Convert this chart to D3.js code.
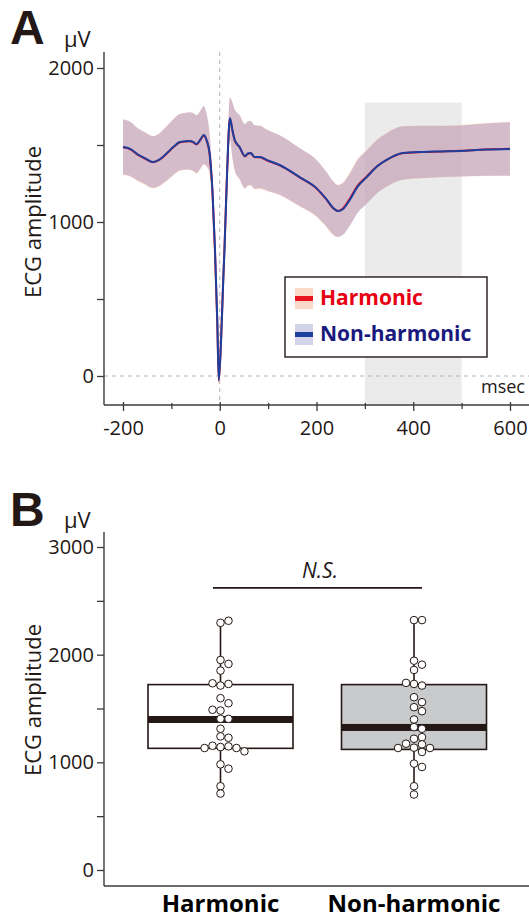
<!DOCTYPE html>
<html>
<head>
<meta charset="utf-8">
<script src="https://cdn.jsdelivr.net/npm/d3@7"></script>
<style>
  body { margin: 0; background: #fff; }
  svg { display: block; font-family: "Open Sans", "Noto Sans", sans-serif; }
</style>
</head>
<body>
<div id="chart"></div>
<script>
// ---- Panel A: averaged ECG waveform ----
const timeMs = [-200, -185, -170, -155, -138, -125, -110, -95, -83, -70, -62, -55, -48, -40, -33, -27, -21, -15, -10, -5, -2, 3, 7, 10, 15, 21, 26, 31, 41, 52, 58, 64, 72, 83, 97, 124, 165, 200, 220, 235, 244, 255, 270, 285, 304, 325, 345, 378, 420, 460, 496, 550, 600];
const harmonicMean = [1485, 1472, 1438, 1412, 1388, 1403, 1443, 1488, 1516, 1523, 1525, 1518, 1504, 1533, 1562, 1528, 1440, 1190, 820, 330, -30, 260, 610, 850, 1310, 1672, 1598, 1530, 1485, 1426, 1443, 1446, 1420, 1420, 1401, 1368, 1290, 1218, 1148, 1088, 1072, 1090, 1158, 1236, 1296, 1362, 1404, 1447, 1454, 1458, 1462, 1471, 1475];
const nonHarmonicMean = [1487, 1475, 1440, 1415, 1390, 1405, 1445, 1490, 1519, 1525, 1526, 1520, 1506, 1535, 1565, 1530, 1448, 1200, 838, 350, -26, 250, 600, 838, 1300, 1675, 1600, 1532, 1487, 1428, 1445, 1448, 1422, 1422, 1403, 1370, 1292, 1220, 1150, 1090, 1071, 1085, 1150, 1230, 1292, 1360, 1403, 1448, 1455, 1458, 1461, 1470, 1474];
const harmonicSd = [180, 178, 172, 170, 170, 172, 178, 183, 185, 186, 188, 190, 190, 190, 190, 170, 130, 80, 50, 30, 25, 30, 40, 50, 90, 137, 180, 200, 210, 210, 210, 210, 208, 205, 200, 195, 190, 185, 180, 175, 170, 170, 172, 174, 175, 175, 175, 175, 172, 168, 168, 172, 175];
const nonHarmonicSd = [178, 176, 170, 168, 168, 170, 176, 181, 183, 184, 186, 188, 188, 188, 188, 168, 128, 78, 48, 28, 24, 28, 38, 48, 88, 135, 178, 198, 208, 208, 208, 208, 206, 203, 198, 193, 188, 183, 178, 173, 168, 168, 170, 172, 173, 173, 173, 173, 170, 166, 166, 170, 173];
const analysisWindow = [300, 500];
const windowTop = 1775;
const xTicksA = [-200, 0, 200, 400, 600];
const xMinorA = [-100, 100, 300, 500];
const yTicksA = [0, 1000, 2000];
const yMinorA = [500, 1500];

// ---- Panel B: amplitude per condition ----
const groups = ["Harmonic", "Non-harmonic"];
const harmonicAmp = [2296, 2315, 1951, 1914, 1852, 1713, 1728, 1734, 1596, 1549, 1481, 1488, 1404, 1404, 1312, 1241, 1228, 1142, 1148, 1154, 1133, 1133, 1102, 981, 941, 778, 710];
const nonHarmonicAmp = [2321, 2321, 1944, 1907, 1858, 1728, 1713, 1738, 1605, 1559, 1512, 1475, 1398, 1327, 1312, 1219, 1234, 1167, 1173, 1136, 1133, 1133, 1096, 988, 957, 778, 701];
const boxQ1 = [1130, 1120];
const boxMedian = [1398, 1324];
const boxQ3 = [1722, 1722];
const yTicksB = [0, 1000, 2000, 3000];
const yMinorB = [500, 1500, 2500];

const W = 529, H = 919;
const ink = "#231815", axisCol = "#3e3a39";
const font = '"Open Sans", "Noto Sans", sans-serif';

const svg = d3.select("#chart").append("svg")
  .attr("width", W).attr("height", H);

// ================= Panel A =================
const xA = d3.scaleLinear().domain([-200, 600]).range([123, 510]);
const yA = d3.scaleLinear().domain([0, 2000]).range([376, 68]);
const axisXA = 104, axisYA = 405;

const gA = svg.append("g");

// analysis window
gA.append("rect")
  .attr("x", xA(analysisWindow[0]))
  .attr("y", yA(windowTop))
  .attr("width", xA(analysisWindow[1]) - xA(analysisWindow[0]))
  .attr("height", axisYA - yA(windowTop))
  .attr("fill", "#ebebeb");

// dashed reference lines
gA.append("line")
  .attr("x1", xA(0)).attr("x2", xA(0)).attr("y1", 52).attr("y2", axisYA)
  .attr("stroke", "#b5b5b5").attr("stroke-dasharray", "4,4").attr("stroke-width", 1);
gA.append("line")
  .attr("x1", axisXA).attr("x2", W).attr("y1", yA(0)).attr("y2", yA(0))
  .attr("stroke", "#b5b5b5").attr("stroke-dasharray", "4,4").attr("stroke-width", 1);

const series = [
  { name: "Harmonic", mean: harmonicMean, sd: harmonicSd, band: "#ffd0ac", bandOp: 0.6, line: "#e8141e", text: "#e60012", swatch: "#fbd9c8" },
  { name: "Non-harmonic", mean: nonHarmonicMean, sd: nonHarmonicSd, band: "#9682c8", bandOp: 0.4, line: "#1d3f9e", text: "#1a1a7e", swatch: "#d3d4ea" }
];

const area = d3.area().curve(d3.curveMonotoneX)
  .x(d => xA(d.t)).y0(d => yA(d.m - d.s)).y1(d => yA(d.m + d.s));
const line = d3.line().curve(d3.curveMonotoneX)
  .x(d => xA(d.t)).y(d => yA(d.m));

series.forEach(s => {
  s.rows = timeMs.map((t, i) => ({ t, m: s.mean[i], s: s.sd[i] }));
  gA.append("path").datum(s.rows)
    .attr("d", area).attr("fill", s.band).attr("fill-opacity", s.bandOp);
});
series.forEach(s => {
  gA.append("path").datum(s.rows)
    .attr("d", line).attr("fill", "none")
    .attr("stroke", s.line).attr("stroke-width", 2);
});

// axes A
gA.append("line").attr("x1", axisXA).attr("x2", axisXA).attr("y1", 52).attr("y2", axisYA)
  .attr("stroke", axisCol).attr("stroke-width", 1.4);
gA.append("line").attr("x1", axisXA).attr("x2", W).attr("y1", axisYA).attr("y2", axisYA)
  .attr("stroke", axisCol).attr("stroke-width", 1.4);

gA.append("g").attr("transform", `translate(${axisXA},0)`)
  .call(d3.axisLeft(yA).tickValues(yTicksA).tickSize(7).tickPadding(3).tickFormat(d => String(d)));
gA.append("g").attr("transform", `translate(${axisXA},0)`)
  .call(d3.axisLeft(yA).tickValues(yMinorA).tickSize(7).tickFormat(""));

const xAxA = gA.append("g").attr("transform", `translate(0,${axisYA})`)
  .call(d3.axisBottom(xA).tickValues(xTicksA).tickSize(6).tickPadding(10).tickFormat(d => String(d)));
xAxA.selectAll(".tick line").attr("y1", -3);
const xMinA = gA.append("g").attr("transform", `translate(0,${axisYA})`)
  .call(d3.axisBottom(xA).tickValues(xMinorA).tickSize(4).tickFormat(""));
xMinA.selectAll(".tick line").attr("y1", -2);

// ================= Panel B =================
const xB = d3.scalePoint().domain(groups).range([220.5, 414]);
const yB = d3.scaleLinear().domain([0, 3000]).range([870, 547]);
const axisXB = 104, axisYB = 886;
const boxW = 145;

const gB = svg.append("g");
const ampSets = [harmonicAmp, nonHarmonicAmp];
const boxFill = ["#ffffff", "#c9cacb"];

groups.forEach((g, i) => {
  const cx = xB(g);
  const ext = d3.extent(ampSets[i]);
  gB.append("line").attr("x1", cx).attr("x2", cx)
    .attr("y1", yB(ext[1])).attr("y2", yB(ext[0]))
    .attr("stroke", ink).attr("stroke-width", 1.6);
  gB.append("rect")
    .attr("x", cx - boxW / 2).attr("width", boxW)
    .attr("y", yB(boxQ3[i])).attr("height", yB(boxQ1[i]) - yB(boxQ3[i]))
    .attr("fill", boxFill[i]).attr("stroke", ink).attr("stroke-width", 1.6);
  gB.append("rect")
    .attr("x", cx - boxW / 2).attr("width", boxW)
    .attr("y", yB(boxMedian[i]) - 3.5).attr("height", 7)
    .attr("fill", ink);
});

// points, dodged so they do not overlap
const r = 3.8;
function dodge(vals) {
  const placed = [];
  return vals.map(v => {
    const cy = yB(v);
    let off = 0;
    for (let k = 0; k < 30; k++) {
      const o = k === 0 ? 0 : (k % 2 ? 1 : -1) * Math.ceil(k / 2) * r * 1.05;
      if (placed.every(p => Math.hypot(p[0] - o, p[1] - cy) >= 2 * r - 0.6)) { off = o; break; }
    }
    placed.push([off, cy]);
    return [off, cy];
  });
}
groups.forEach((g, i) => {
  const cx = xB(g);
  gB.selectAll(null).data(dodge(ampSets[i])).enter().append("circle")
    .attr("cx", d => cx + d[0]).attr("cy", d => d[1]).attr("r", r)
    .attr("fill", "#fff").attr("stroke", ink).attr("stroke-width", 1);
});

// significance bar
gB.append("line").attr("x1", 213).attr("x2", 422).attr("y1", yB(2620)).attr("y2", yB(2620))
  .attr("stroke", ink).attr("stroke-width", 1.6);
gB.append("text").attr("x", 320).attr("y", yB(2620) - 10)
  .attr("text-anchor", "middle").attr("font-style", "italic")
  .attr("font-size", 21).attr("fill", ink).text("N.S.");

// axes B
gB.append("line").attr("x1", axisXB).attr("x2", axisXB).attr("y1", 532).attr("y2", axisYB)
  .attr("stroke", axisCol).attr("stroke-width", 1.4);
gB.append("line").attr("x1", axisXB).attr("x2", W).attr("y1", axisYB).attr("y2", axisYB)
  .attr("stroke", axisCol).attr("stroke-width", 1.4);
gB.append("g").attr("transform", `translate(${axisXB},0)`)
  .call(d3.axisLeft(yB).tickValues(yTicksB).tickSize(7).tickPadding(3).tickFormat(d => String(d)));
gB.append("g").attr("transform", `translate(${axisXB},0)`)
  .call(d3.axisLeft(yB).tickValues(yMinorB).tickSize(7).tickFormat(""));

gB.selectAll(null).data(groups).enter().append("text")
  .attr("x", d => xB(d)).attr("y", 912)
  .attr("text-anchor", "middle").attr("font-weight", "bold")
  .attr("font-size", 24).attr("fill", "#000").text(d => d);

// style axis text/lines
svg.selectAll(".domain").remove();
svg.selectAll(".tick line").attr("stroke", axisCol).attr("stroke-width", 1.3);
svg.selectAll(".tick text").attr("font-size", 20).attr("fill", ink)
  .attr("font-family", font);

// ---- legend A ----
const leg = svg.append("g");
leg.append("rect").attr("x", 285).attr("y", 277).attr("width", 202).attr("height", 80)
  .attr("fill", "#fff").attr("stroke", ink).attr("stroke-width", 1.4);
series.forEach((s, i) => {
  const cy = 298 + i * 36;
  leg.append("rect").attr("x", 295).attr("y", cy - 10).attr("width", 18).attr("height", 21)
    .attr("fill", s.swatch);
  leg.append("rect").attr("x", 295).attr("y", cy - 2).attr("width", 18).attr("height", 5)
    .attr("fill", s.line);
  leg.append("text").attr("x", 320).attr("y", cy + 7)
    .attr("font-size", 21).attr("font-weight", "bold").attr("fill", s.text).text(s.name);
});

// ---- labels ----
function panelLabels(letter, ly, uy, cy) {
  svg.append("text").attr("x", 10).attr("y", ly)
    .attr("font-family", '"Liberation Sans", Arial, sans-serif')
    .attr("font-weight", "bold").attr("font-size", 48).attr("fill", ink).text(letter);
  svg.append("text").attr("x", 64).attr("y", uy)
    .attr("font-size", 22).attr("fill", ink).text("μV");
  svg.append("text").attr("transform", `translate(41,${cy}) rotate(-90)`)
    .attr("text-anchor", "middle").attr("font-size", 22).attr("fill", ink).text("ECG amplitude");
}
panelLabels("A", 44, 47, 222);
panelLabels("B", 526, 528, 700);

svg.append("text").attr("x", 481).attr("y", 393)
  .attr("font-size", 18).attr("fill", ink).text("msec");
</script>
</body>
</html>
